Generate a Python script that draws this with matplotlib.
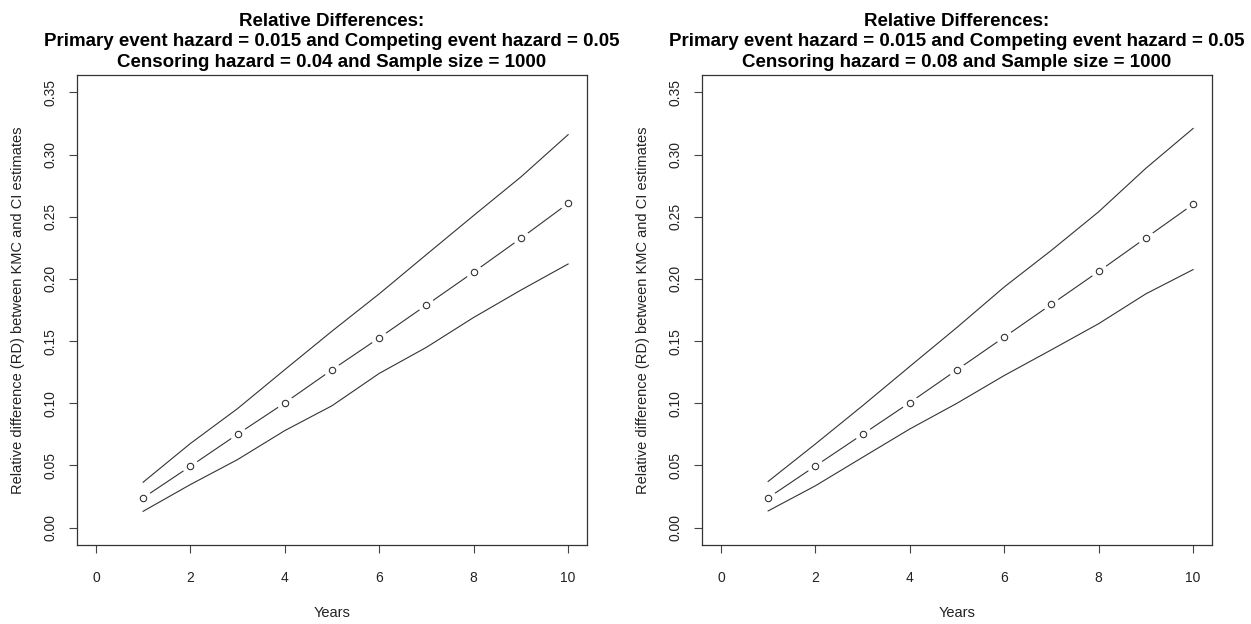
import numpy as np
import matplotlib.pyplot as plt

plt.rcParams['font.family'] = ['Liberation Sans', 'DejaVu Sans']

years = np.arange(1, 11)

# panel 1: censoring hazard 0.04
rd_1 = [0.0239, 0.0493, 0.0751, 0.1003, 0.1269, 0.1526, 0.1790, 0.2055, 0.2327, 0.2607]
upper_1 = [0.0365, 0.0676, 0.0957, 0.1270, 0.1580, 0.1880, 0.2196, 0.2510, 0.2820, 0.3160]
lower_1 = [0.0131, 0.0346, 0.0547, 0.0780, 0.0980, 0.1240, 0.1450, 0.1690, 0.1910, 0.2120]

# panel 2: censoring hazard 0.08
rd_2 = [0.0239, 0.0495, 0.0750, 0.1005, 0.1269, 0.1532, 0.1796, 0.2060, 0.2330, 0.2600]
upper_2 = [0.0371, 0.0672, 0.0980, 0.1296, 0.1610, 0.1935, 0.2230, 0.2540, 0.2890, 0.3210]
lower_2 = [0.0134, 0.0336, 0.0565, 0.0793, 0.1000, 0.1223, 0.1430, 0.1640, 0.1880, 0.2075]

titles = [
    "Relative Differences:\nPrimary event hazard = 0.015 and Competing event hazard = 0.05\n"
    "Censoring hazard = 0.04 and Sample size = 1000",
    "Relative Differences:\nPrimary event hazard = 0.015 and Competing event hazard = 0.05\n"
    "Censoring hazard = 0.08 and Sample size = 1000",
]

W, H = 1251, 624
fig = plt.figure(figsize=(W / 100, H / 100), dpi=100)

panels = [
    (77, 587, rd_1, upper_1, lower_1, titles[0]),
    (702, 1212, rd_2, upper_2, lower_2, titles[1]),
]
top, bottom = 75, 545
col = '#222222'
lcol = '#333333'

for left, right, rd, up, lo, title in panels:
    ax = fig.add_axes([left / W, (H - bottom) / H, (right - left) / W, (bottom - top) / H])
    ax.plot(years, rd, color=lcol, lw=0.8, zorder=2)
    ax.plot(years, rd, 'o', ms=12, mfc='white', mec='none', zorder=3)
    ax.plot(years, up, color=lcol, lw=0.8, zorder=4)
    ax.plot(years, lo, color=lcol, lw=0.8, zorder=4)
    ax.plot(years, rd, 'o', ms=4.6, mfc='white', mec=lcol, mew=0.8, zorder=5)

    ax.set_xlim(-0.4, 10.4)
    ax.set_ylim(-0.014, 0.364)
    ax.set_xticks([0, 2, 4, 6, 8, 10])
    ax.set_yticks(np.arange(0, 0.351, 0.05))
    ax.set_yticklabels([f"{v:.2f}" for v in np.arange(0, 0.351, 0.05)],
                       rotation=90, va='center')
    ax.tick_params(axis='x', length=6, width=0.8, color='#444444', pad=13,
                   labelsize=10, labelcolor=col)
    ax.tick_params(axis='y', length=6, width=0.8, color='#444444', pad=8,
                   labelsize=10, labelcolor=col)
    for s in ax.spines.values():
        s.set_linewidth(0.9)
        s.set_color('#333333')

    ax.set_xlabel("Years", fontsize=10.5, color=col, labelpad=15)
    ax.set_ylabel("Relative difference (RD) between KMC and CI estimates",
                  fontsize=10.5, color=col, labelpad=13)
    ax.set_title(title, fontsize=13.5, fontweight='bold', linespacing=1.25, pad=6)

fig.savefig("out.png", dpi=100)
